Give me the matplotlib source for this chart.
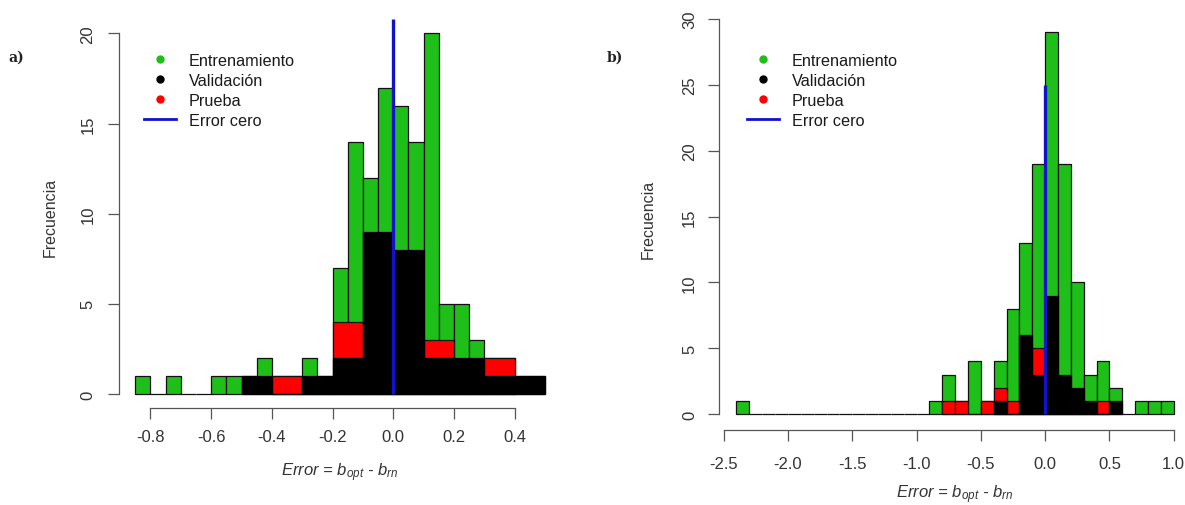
import numpy as np
import matplotlib
matplotlib.use('Agg')
import matplotlib.pyplot as plt
from matplotlib.lines import Line2D

plt.rcParams['font.family'] = ['Liberation Sans', 'DejaVu Sans']
plt.rcParams['mathtext.fontset'] = 'custom'
plt.rcParams['mathtext.it'] = 'Liberation Sans:italic'
plt.rcParams['mathtext.rm'] = 'Liberation Sans'

# ---------------- data ----------------
# Panel a) : training histogram (bin width 0.05), validation / test (bin width 0.1)
a_train_left = [-0.85, -0.80, -0.75, -0.70, -0.65, -0.60, -0.55, -0.50, -0.45, -0.40,
                -0.35, -0.30, -0.25, -0.20, -0.15, -0.10, -0.05, 0.00, 0.05, 0.10,
                0.15, 0.20, 0.25, 0.30, 0.35, 0.40, 0.45]
a_train_counts = [1, 0, 1, 0, 0, 1, 1, 1, 2, 1,
                  1, 2, 1, 7, 14, 12, 17, 16, 14, 20,
                  5, 5, 3, 2, 2, 1, 1]
a_test_left = [-0.4, -0.3, -0.2, -0.1, 0.0, 0.1, 0.2, 0.3]
a_test_counts = [1, 0, 4, 0, 0, 3, 0, 2]
a_val_left = [-0.5, -0.4, -0.3, -0.2, -0.1, 0.0, 0.1, 0.2, 0.3, 0.4]
a_val_counts = [1, 0, 1, 2, 9, 8, 2, 2, 1, 1]
a_xticks = [-0.8, -0.6, -0.4, -0.2, 0.0, 0.2, 0.4]
a_xticklabels = ['-0.8', '-0.6', '-0.4', '-0.2', '0.0', '0.2', '0.4']
a_yticks = [0, 5, 10, 15, 20]
a_zero_top = 20.8

# Panel b) : all bins width 0.1
b_train_left = [-2.4, -2.3, -2.2, -2.1, -2.0, -1.9, -1.8, -1.7, -1.6, -1.5,
                -1.4, -1.3, -1.2, -1.1, -1.0, -0.9, -0.8, -0.7, -0.6, -0.5,
                -0.4, -0.3, -0.2, -0.1, 0.0, 0.1, 0.2, 0.3, 0.4, 0.5,
                0.6, 0.7, 0.8, 0.9]
b_train_counts = [1, 0, 0, 0, 0, 0, 0, 0, 0, 0,
                  0, 0, 0, 0, 0, 1, 3, 1, 4, 1,
                  4, 8, 13, 19, 29, 19, 10, 3, 4, 2,
                  0, 1, 1, 1]
b_test_left = [-0.8, -0.7, -0.6, -0.5, -0.4, -0.3, -0.2, -0.1, 0.0, 0.1, 0.2, 0.3, 0.4]
b_test_counts = [1, 1, 0, 1, 2, 1, 0, 5, 0, 0, 0, 0, 1]
b_val_left = [-0.4, -0.3, -0.2, -0.1, 0.0, 0.1, 0.2, 0.3, 0.4, 0.5]
b_val_counts = [1, 0, 6, 3, 9, 3, 2, 1, 0, 1]
b_xticks = [-2.5, -2.0, -1.5, -1.0, -0.5, 0.0, 0.5, 1.0]
b_xticklabels = ['-2.5', '-2.0', '-1.5', '-1.0', '-0.5', '0.0', '0.5', '1.0']
b_yticks = [0, 5, 10, 15, 20, 25, 30]
b_zero_top = 25

legend_labels = ['Entrenamiento', 'Validación', 'Prueba', 'Error cero']

# ---------------- style ----------------
GREEN = '#1FBF1A'
RED = '#FF0000'
BLACK = '#000000'
BLUE = '#1212CC'
AXC = '#555555'
TXT = '#333333'

W, H = 1185, 506
fig = plt.figure(figsize=(W / 100, H / 100), dpi=100)


def px_axes(l, r, t, b):
    return fig.add_axes([l / W, 1 - b / H, (r - l) / W, (b - t) / H])


def panel(ax, tr_l, tr_c, tr_w, te_l, te_c, te_w, va_l, va_c, va_w,
          xlim, ylim, xticks, xlabels, yticks, ztop, pad_x, pad_y):
    ax.bar(tr_l, tr_c, width=tr_w, align='edge', color=GREEN,
           edgecolor='#111111', linewidth=0.9, zorder=2)
    ax.bar(te_l, te_c, width=te_w, align='edge', color=RED,
           edgecolor='#111111', linewidth=0.9, zorder=3)
    ax.bar(va_l, va_c, width=va_w, align='edge', color=BLACK,
           edgecolor='#000000', linewidth=0.9, zorder=4)
    ax.plot([0, 0], [0, ztop], color=BLUE, lw=2.4, zorder=5,
            solid_capstyle='butt')
    ax.set_xlim(*xlim)
    ax.set_ylim(*ylim)
    for s in ['top', 'right']:
        ax.spines[s].set_visible(False)
    for s in ['left', 'bottom']:
        ax.spines[s].set_color(AXC)
        ax.spines[s].set_linewidth(0.9)
    ax.spines['left'].set_bounds(yticks[0], yticks[-1])
    ax.spines['bottom'].set_bounds(xticks[0], xticks[-1])
    ax.set_xticks(xticks)
    ax.set_xticklabels(xlabels)
    ax.set_yticks(yticks)
    ax.set_yticklabels([str(v) for v in yticks], rotation=90, va='center')
    ax.tick_params(axis='both', length=8, width=0.9, color=AXC,
                   labelsize=12, labelcolor=TXT)
    ax.tick_params(axis='x', pad=pad_x)
    ax.tick_params(axis='y', pad=pad_y)
    ax.patch.set_alpha(0)


# Panel a) plot region (pixels)
ax1 = px_axes(118.9, 561.4, 20.0, 409.4)
panel(ax1, a_train_left, a_train_counts, 0.05, a_test_left, a_test_counts, 0.1,
      a_val_left, a_val_counts, 0.1, (-0.904, 0.554), (-0.8, 20.8),
      a_xticks, a_xticklabels, a_yticks, a_zero_top, 7, 9)

ax2 = px_axes(719.0, 1191.2, 4.2, 430.8)
panel(ax2, b_train_left, b_train_counts, 0.1, b_test_left, b_test_counts, 0.1,
      b_val_left, b_val_counts, 0.1, (-2.536, 1.136), (-1.2, 31.2),
      b_xticks, b_xticklabels, b_yticks, b_zero_top, 11, 7.8)

# axis labels
xlab = r'$Error$ = $b_{opt}$ - $b_{rn}$'
fig.text(340 / W, 1 - 473 / H, xlab, ha='center', va='center', fontsize=12,
         color=TXT, style='italic')
fig.text(955 / W, 1 - 495 / H, xlab, ha='center', va='center', fontsize=12,
         color=TXT, style='italic')
fig.text(50 / W, 1 - 217 / H, 'Frecuencia', rotation=90, ha='center',
         va='center', fontsize=11.5, color=TXT)
fig.text(648 / W, 1 - 219 / H, 'Frecuencia', rotation=90, ha='center',
         va='center', fontsize=11.5, color=TXT)

# panel labels
fig.text(8 / W, 1 - 58 / H, 'a)', ha='left', va='center', fontsize=10,
         fontweight='bold', family='DejaVu Serif', color='#222222')
fig.text(607 / W, 1 - 58 / H, 'b)', ha='left', va='center', fontsize=10,
         fontweight='bold', family='DejaVu Serif', color='#222222')

# legends
def handles():
    return [Line2D([], [], marker='o', ls='none', color=GREEN, ms=5),
            Line2D([], [], marker='o', ls='none', color=BLACK, ms=5),
            Line2D([], [], marker='o', ls='none', color=RED, ms=5),
            Line2D([], [], color=BLUE, lw=2)]

for ax, x0 in [(ax1, 144), (ax2, 747)]:
    ax.legend(handles(), legend_labels, loc='upper left',
              bbox_to_anchor=(x0 / W, 1 - 54 / H), bbox_transform=fig.transFigure,
              frameon=False, fontsize=11.7, borderpad=0, borderaxespad=0,
              handlelength=1.95, handletextpad=0.8, labelspacing=0.31,
              labelcolor='#1a1a1a')

fig.savefig('out.png', dpi=100)
